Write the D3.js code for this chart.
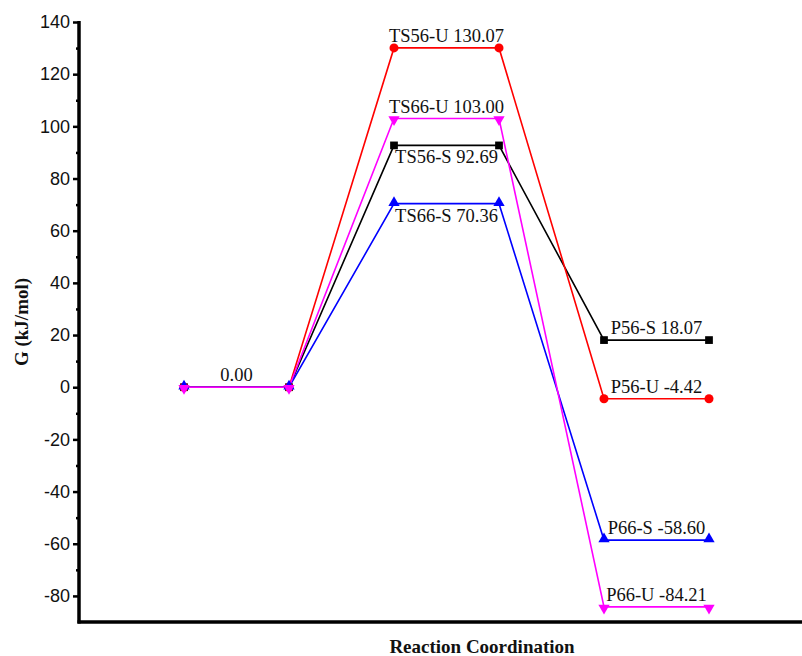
<!DOCTYPE html>
<html>
<head>
    <meta charset="utf-8">
    <script src="https://cdn.jsdelivr.net/npm/d3@7"></script>
</head>
<body style="margin:0;background:#fff">
<style>
    .lbl{ font-family:"Liberation Serif","Times New Roman",serif; font-size:18.5px; fill:#111; }
    .axtitle{ font-family:"Liberation Serif","Times New Roman",serif; font-size:19px; font-weight:bold; fill:#111; }
    .yaxis text{ font-family:"Liberation Sans",Arial,sans-serif; font-size:18px; fill:#111; }
</style>
<script>
    var w=802, h=656;

    // reaction steps (x positions) and energies
    var steps=[1,2,3,4,5,6];
    var s56S=[0,0,92.69,92.69,18.07,18.07];
    var s56U=[0,0,130.07,130.07,-4.42,-4.42];
    var s66S=[0,0,70.36,70.36,-58.60,-58.60];
    var s66U=[0,0,103.00,103.00,-84.21,-84.21];

    var seriesNames=['56-S','56-U','66-S','66-U'];
    var seriesColors=['#000000','#ff0000','#0000ff','#ff00ff'];
    var seriesSymbols=['square','circle','up','down'];

    var yMajor=[-80,-60,-40,-20,0,20,40,60,80,100,120,140];
    var yMinor=[-70,-50,-30,-10,10,30,50,70,90,110,130];

    // labels: text, x between step a and b, value, placed above(1)/below(-1)
    var labelText=['0.00','TS56-U 130.07','TS66-U 103.00','TS56-S 92.69','TS66-S 70.36','P56-S 18.07','P56-U -4.42','P66-S -58.60','P66-U -84.21'];
    var labelX=[1.5,3.5,3.5,3.5,3.5,5.5,5.5,5.5,5.5];
    var labelY=[0,130.07,103.00,92.69,70.36,18.07,-4.42,-58.60,-84.21];
    var labelSide=[1,1,1,-1,-1,1,1,1,1];

    var svg=d3.select('body').append('svg').attr('width',w).attr('height',h);

    var x=d3.scaleLinear().domain([0,7]).range([79,814]);
    var y=d3.scaleLinear().domain([-90,140]).range([622,22]);

    // y axis
    var gy=svg.append('g').attr('class','yaxis').attr('transform','translate(79,0)');
    gy.call(d3.axisLeft(y).tickValues(yMajor).tickSize(6).tickPadding(3).tickFormat(function(d){return String(d);}));
    gy.select('.domain').remove();
    gy.selectAll('.tick line').attr('stroke','#000').attr('stroke-width',2.5);
    var gm=svg.append('g').attr('transform','translate(79,0)');
    gm.call(d3.axisLeft(y).tickValues(yMinor).tickSize(3).tickFormat(''));
    gm.select('.domain').remove();
    gm.selectAll('.tick line').attr('stroke','#000').attr('stroke-width',2.5);

    svg.append('line').attr('x1',x(0)).attr('x2',x(0)).attr('y1',y(140)-1).attr('y2',y(-90)+1.5)
        .attr('stroke','#000').attr('stroke-width',3.5);
    svg.append('line').attr('x1',x(0)-1.5).attr('x2',w).attr('y1',y(-90)).attr('y2',y(-90))
        .attr('stroke','#000').attr('stroke-width',3.5);

    // series
    var allSeries=[s56S,s56U,s66S,s66U];
    var line=d3.line().x(function(d,i){return x(steps[i]);}).y(function(d){return y(d);});
    var symMap={square:d3.symbolSquare,circle:d3.symbolCircle,up:d3.symbolTriangle,down:d3.symbolTriangle};
    var symSize={square:60,circle:64,up:55,down:55};

    allSeries.forEach(function(vals,k){
        svg.append('path').attr('d',line(vals)).attr('fill','none')
            .attr('stroke',seriesColors[k]).attr('stroke-width',1.6);
    });
    allSeries.forEach(function(vals,k){
        var sym=seriesSymbols[k];
        svg.selectAll('.m'+k).data(vals).enter().append('path')
            .attr('class','m'+k)
            .attr('d',d3.symbol().type(symMap[sym]).size(symSize[sym]))
            .attr('transform',function(d,i){
                return 'translate('+x(steps[i])+','+(y(d)+(sym=='up'?-1:sym=='down'?1:0))+')'+(sym=='down'?' rotate(180)':'');
            })
            .attr('fill',seriesColors[k]);
    });

    // value labels
    svg.selectAll('.lbl').data(labelText).enter().append('text')
        .attr('class','lbl')
        .attr('text-anchor','middle')
        .attr('x',function(d,i){return x(labelX[i]);})
        .attr('y',function(d,i){return y(labelY[i])+(labelSide[i]>0?-6:18);})
        .text(function(d){return d;});

    // axis titles
    svg.append('text').attr('class','axtitle').attr('text-anchor','middle')
        .attr('transform','translate(28,'+((y(140)+y(-90))/2)+') rotate(-90)')
        .text('G (kJ/mol)');
    svg.append('text').attr('class','axtitle').attr('text-anchor','middle')
        .attr('x',482).attr('y',653)
        .text('Reaction Coordination');
</script>
</body>
</html>
